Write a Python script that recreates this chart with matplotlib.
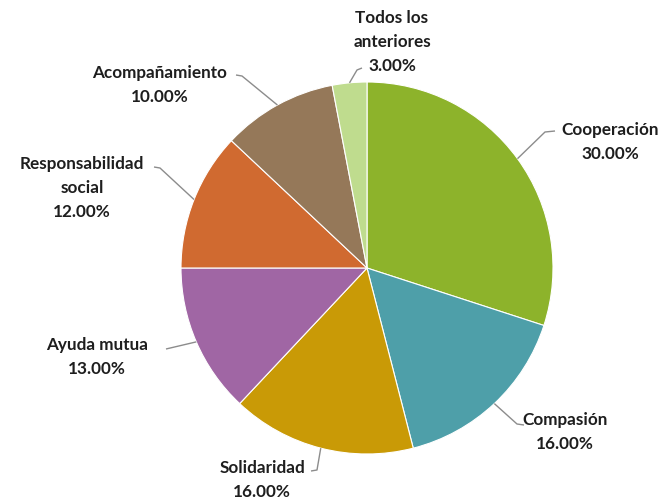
import numpy as np
import matplotlib
matplotlib.use("Agg")
import matplotlib.pyplot as plt

categories = ["Cooperación", "Compasión", "Solidaridad", "Ayuda mutua",
              "Responsabilidad\nsocial", "Acompañamiento", "Todos los\nanteriores"]
values = [30, 16, 16, 13, 12, 10, 3]
colors = ["#8DB32B", "#4E9FA9", "#C99A06", "#A066A4", "#D06A30", "#957859", "#BFDC8E"]

W, H = 668, 503
fig = plt.figure(figsize=(W / 100, H / 100), dpi=100)
ax = fig.add_axes([0, 0, 1, 1])

def P(x, y):
    return (x, H - y)

cx, cy = P(367, 268)
R = 186
wedges, _ = ax.pie(values, colors=colors, startangle=90, counterclock=False,
                   center=(cx, cy), radius=R, frame=True,
                   wedgeprops=dict(edgecolor="white", linewidth=0.8))
ax.set_xlim(0, W)
ax.set_ylim(0, H)
ax.axis("off")

# label text centers (pixel coords) and leader elbow/end points
label_pos = [(610, 142), (565, 432), (262, 480), (97, 357), (82, 188), (160, 85), (392, 42)]
elbows = [[(545, 132), (555, 131)],
          [(517, 424), (524, 425)],
          [(317, 470), (311, 471)],
          [(166, 349)],
          [(160, 168), (154, 167)],
          [(242, 76), (236, 75)],
          [(357, 70), (362, 68)]]

font = dict(family="Lato", weight="bold", size=12.3, color="#1E1E1E")
total = sum(values)
start = 90.0
for i, (lab, v) in enumerate(zip(categories, values)):
    ang = np.deg2rad(start - v / total * 360 / 2)
    start -= v / total * 360
    ax_, ay_ = cx + R * np.cos(ang), cy + R * np.sin(ang)
    pts = [(ax_, ay_)] + [P(*p) for p in elbows[i]]
    xs, ys = zip(*pts)
    ax.plot(xs, ys, color="#8C8C8C", lw=1.0, solid_capstyle="butt")
    tx, ty = P(*label_pos[i])
    ax.text(tx, ty, f"{lab}\n{v:.2f}%", ha="center", va="center",
            linespacing=1.62, **font)

fig.savefig("out.png", dpi=100)
